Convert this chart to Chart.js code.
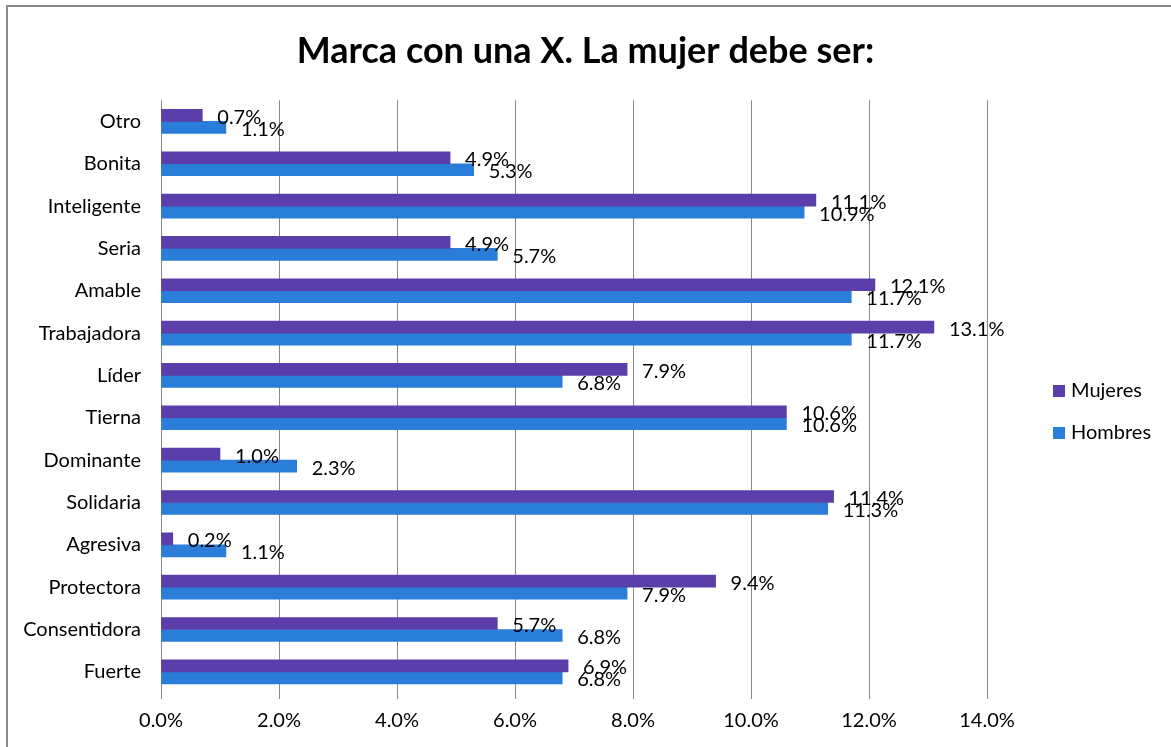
<!DOCTYPE html>
<html>
<head>
<meta charset="utf-8">
<script src="https://cdn.jsdelivr.net/npm/chart.js@4.4.1/dist/chart.umd.min.js"></script>
<style>
  html, body { margin: 0; padding: 0; background: #fff; overflow: hidden; }
  #frame { position: absolute; left: 6px; top: 5px; width: 1180px; height: 760px; border: 2px solid #8c8c8c; box-sizing: border-box; }
  #chart { position: absolute; left: 0; top: 0; }
</style>
</head>
<body>
<div id="frame"></div>
<canvas id="chart" width="1171" height="747"></canvas>
<script>
// categories top to bottom
const categories = ['Otro', 'Bonita', 'Inteligente', 'Seria', 'Amable', 'Trabajadora', 'Líder',
  'Tierna', 'Dominante', 'Solidaria', 'Agresiva', 'Protectora', 'Consentidora', 'Fuerte'];
const mujeres = [0.7, 4.9, 11.1, 4.9, 12.1, 13.1, 7.9, 10.6, 1.0, 11.4, 0.2, 9.4, 5.7, 6.9];
const hombres = [1.1, 5.3, 10.9, 5.7, 11.7, 11.7, 6.8, 10.6, 2.3, 11.3, 1.1, 7.9, 6.8, 6.8];
const xTicks = [0, 2, 4, 6, 8, 10, 12, 14];

const FONT = "Lato, 'Open Sans', sans-serif";
const purple = '#5b3ea9';
const blue = '#2a7dd8';

// value labels right of each bar
const valueLabels = {
  id: 'valueLabels',
  afterDatasetsDraw(chart) {
    const ctx = chart.ctx;
    ctx.save();
    ctx.font = '20px ' + FONT;
    ctx.fillStyle = '#000';
    ctx.textBaseline = 'middle';
    ctx.textAlign = 'left';
    chart.data.datasets.forEach((ds, i) => {
      chart.getDatasetMeta(i).data.forEach((bar, j) => {
        ctx.fillText(ds.data[j].toFixed(1) + '%', bar.x + 15, bar.y + 2);
      });
    });
    ctx.restore();
  }
};

// simple legend at right
const sideLegend = {
  id: 'sideLegend',
  afterDraw(chart) {
    const ctx = chart.ctx;
    ctx.save();
    ctx.font = '20px ' + FONT;
    ctx.textBaseline = 'middle';
    chart.data.datasets.forEach((ds, i) => {
      const y = 391 + i * 42;
      ctx.fillStyle = ds.backgroundColor;
      ctx.fillRect(1053, y - 6, 12, 12);
      ctx.fillStyle = '#000';
      ctx.fillText(ds.label, 1071, y);
    });
    ctx.restore();
  }
};

new Chart(document.getElementById('chart').getContext('2d'), {
  type: 'bar',
  data: {
    labels: categories,
    datasets: [
      { label: 'Mujeres', data: mujeres, backgroundColor: purple, barThickness: 12 },
      { label: 'Hombres', data: hombres, backgroundColor: blue, barThickness: 12 }
    ]
  },
  options: {
    indexAxis: 'y',
    responsive: false,
    animation: false,
    layout: { padding: { left: 0, right: 0, top: 0, bottom: 4 } },
    plugins: {
      legend: { display: false },
      tooltip: { enabled: false },
      title: {
        display: true,
        text: 'Marca con una X. La mujer debe ser:',
        color: '#000',
        font: { family: FONT, size: 36, weight: 'bold' },
        padding: { top: 30, bottom: 27 }
      }
    },
    scales: {
      x: {
        min: 0,
        max: 14,
        afterBuildTicks: (s) => { s.ticks = xTicks.map(v => ({ value: v })); },
        ticks: {
          color: '#000',
          font: { family: FONT, size: 20 },
          padding: 10,
          callback: (v) => v.toFixed(1) + '%'
        },
        grid: { color: '#878787', lineWidth: 1, tickLength: 6 },
        border: { display: false }
      },
      y: {
        afterFit: (s) => { s.width = 161; },
        ticks: { color: '#000', font: { family: FONT, size: 20 }, padding: 20 },
        grid: { display: false, drawTicks: false },
        border: { display: false }
      },
      // empty axis on the right keeps room for the legend
      yRight: {
        type: 'category',
        position: 'right',
        afterFit: (s) => { s.width = 184; },
        ticks: { display: false },
        grid: { display: false, drawTicks: false },
        border: { display: false }
      }
    }
  },
  plugins: [valueLabels, sideLegend]
});
</script>
</body>
</html>
